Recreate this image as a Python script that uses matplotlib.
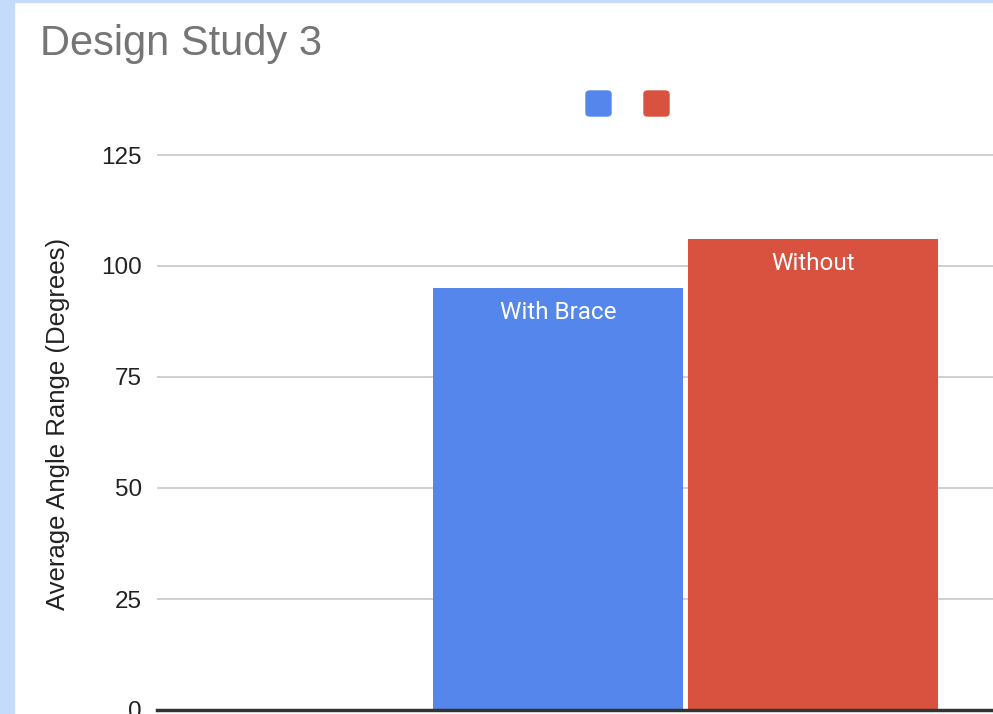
import matplotlib.pyplot as plt
from matplotlib.patches import FancyBboxPatch, Rectangle

# -------------------------------
# data
# -------------------------------
series = ["With Brace", "Without"]
values = [95, 106]
colors = ["#5586ec", "#d9513f"]
yticks = [0, 25, 50, 75, 100, 125]

W, H = 993, 714
fig = plt.figure(figsize=(W / 100, H / 100), dpi=100)
plt.rcParams["font.family"] = ["Liberation Sans", "DejaVu Sans"]

# light blue frame bits (screenshot edges)
fig.patches.append(Rectangle((0, 0), 14 / W, 1, transform=fig.transFigure, color="#c4dbfb", zorder=0))
fig.patches.append(Rectangle((0, 1 - 2 / H), 1, 2 / H, transform=fig.transFigure, color="#c4dbfb", zorder=0))

# plot area in pixels (extends past the right edge, chart is cropped)
left, right = 157, 1214
bottom, top = 710, 138
ax = fig.add_axes([left / W, 1 - bottom / H, (right - left) / W, (bottom - top) / H])
ymax = (bottom - top) / ((bottom - 155) / 125)
ax.set_ylim(0, ymax)
ax.set_xlim(-0.5, 0.5)

width = 0.2365
offsets = [-0.1206, 0.1206]
for name, v, c, off in zip(series, values, colors, offsets):
    ax.bar(off, v, width=width, color=c, zorder=3)
    ax.annotate(name, (off, v), xytext=(0, -9), textcoords="offset points",
                ha="center", va="top", color="white", fontsize=17.5, family=["Roboto", "DejaVu Sans"], zorder=4)

ax.set_yticks(yticks)
ax.set_xticks([])
ax.tick_params(axis="y", length=0, pad=11, labelsize=17.5, labelcolor="#222222")
ax.grid(axis="y", color="#cccccc", linewidth=1.3, zorder=0)
for s in ["top", "right", "left"]:
    ax.spines[s].set_visible(False)
ax.spines["bottom"].set_color("#333333")
ax.spines["bottom"].set_linewidth(2.5)
ax.spines["bottom"].set_zorder(5)
ax.set_ylabel("Average Angle Range (Degrees)", fontsize=18.5, color="#222222", labelpad=22)

fig.text(40 / W, 1 - 44 / H, "Design Study 3", fontsize=30, color="#757575", va="center", ha="left")

# legend squares (no labels)
for i, c in enumerate(colors):
    fig.patches.append(FancyBboxPatch(((586 + 58 * i) / W, 1 - 116 / H), 25 / W, 25 / H,
                                      boxstyle="round,pad=0,rounding_size=0.004",
                                      transform=fig.transFigure, color=c))

plt.savefig("out.png", dpi=100)
